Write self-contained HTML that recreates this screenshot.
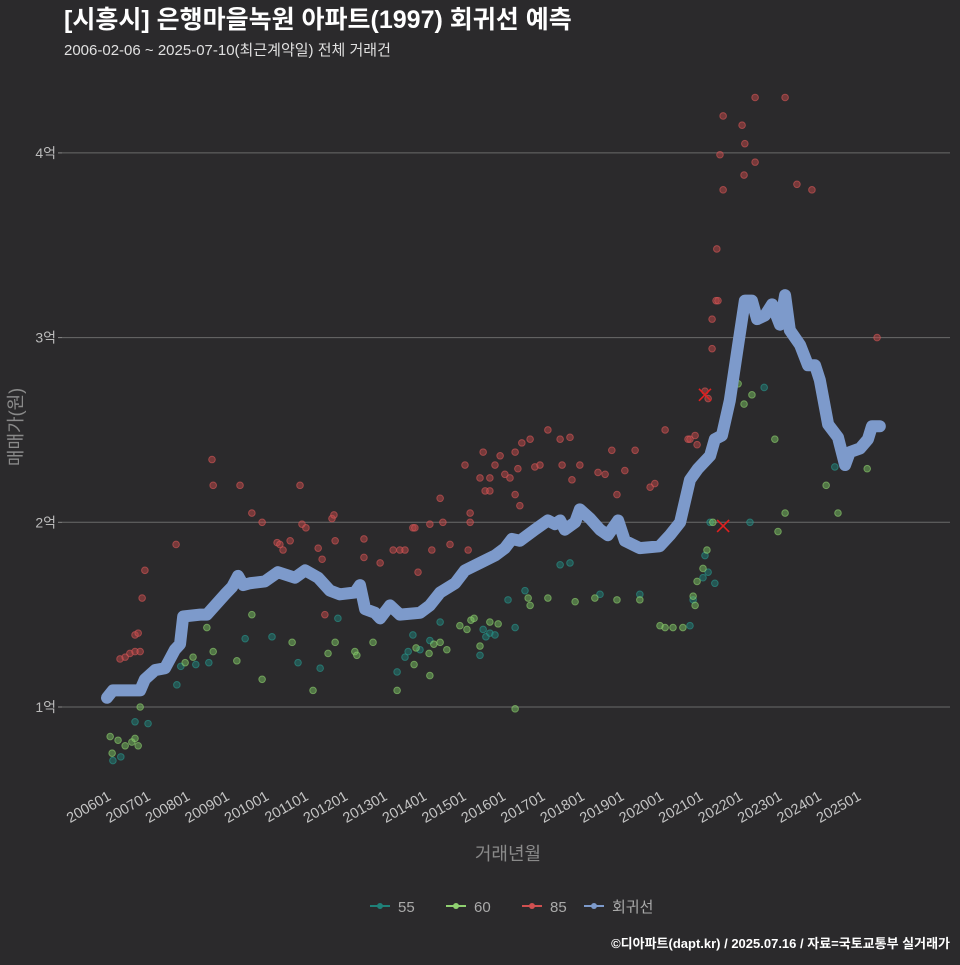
<!DOCTYPE html>
<html><head><meta charset="utf-8">
<style>
html,body{margin:0;padding:0;background:#2b2a2c;}
body{width:960px;height:960px;overflow:hidden;font-family:"Liberation Sans","Noto Sans CJK KR",sans-serif;}
</style></head>
<body>
<svg id="chart" width="960" height="960" xmlns="http://www.w3.org/2000/svg" style="font-family:'Liberation Sans','Noto Sans CJK KR',sans-serif">
<rect width="960" height="960" fill="#2b2a2c"/>
<text x="64" y="28" fill="#ffffff" font-size="25" font-weight="bold">[시흥시] 은행마을녹원 아파트(1997) 회귀선 예측</text>
<text x="64" y="55" fill="#e0e0e0" font-size="15">2006-02-06 ~ 2025-07-10(최근계약일) 전체 거래건</text>
<g id="grid"></g>
<g id="yaxis"></g>
<g id="xaxis"></g>
<g id="points"></g>
<g id="line"></g>
<text x="0" y="0" transform="translate(22,427) rotate(-90)" text-anchor="middle" fill="#8a8a8a" font-size="18">매매가(원)</text>
<text x="508" y="860" text-anchor="middle" fill="#8a8a8a" font-size="18">거래년월</text>
<g id="legend"></g>
<text x="950" y="948" text-anchor="end" fill="#ffffff" font-size="13" font-weight="bold">©디아파트(dapt.kr) / 2025.07.16 / 자료=국토교통부 실거래가</text>
</svg>
<script>
const yTicks=[1,2,3,4];
const yTickLabels=["1억","2억","3억","4억"];
const xTicks=[2006,2007,2008,2009,2010,2011,2012,2013,2014,2015,2016,2017,2018,2019,2020,2021,2022,2023,2024,2025];
const xTickLabels=["200601","200701","200801","200901","201001","201101","201201","201301","201401","201501","201601","201701","201801","201901","202001","202101","202201","202301","202401","202501"];
const s85=[[2006.15,1.09],[2006.33,1.26],[2006.46,1.27],[2006.58,1.29],[2006.71,1.30],[2006.84,1.30],[2006.71,1.39],[2006.79,1.40],[2006.89,1.59],[2006.96,1.74],[2007.75,1.88],[2008.66,2.34],[2008.69,2.20],[2009.37,2.20],[2009.67,2.05],[2009.93,2.00],[2010.31,1.89],[2010.38,1.88],[2010.46,1.85],[2010.64,1.90],[2010.89,2.20],[2010.94,1.99],[2011.04,1.97],[2011.35,1.86],[2011.45,1.80],[2011.52,1.50],[2011.70,2.02],[2011.75,2.04],[2011.78,1.90],[2012.51,1.91],[2012.51,1.81],[2012.92,1.78],[2013.25,1.85],[2013.42,1.85],[2013.55,1.85],[2013.75,1.97],[2013.80,1.97],[2013.88,1.73],[2014.18,1.99],[2014.23,1.85],[2014.44,2.13],[2014.51,2.00],[2014.69,1.88],[2015.07,2.31],[2015.15,1.85],[2015.20,2.05],[2015.20,2.00],[2015.45,2.24],[2015.53,2.38],[2015.58,2.17],[2015.70,2.24],[2015.70,2.17],[2015.83,2.31],[2015.96,2.36],[2016.08,2.26],[2016.21,2.24],[2016.34,2.15],[2016.34,2.38],[2016.41,2.29],[2016.46,2.09],[2016.51,2.43],[2016.72,2.45],[2016.84,2.30],[2016.97,2.31],[2017.17,2.50],[2017.48,2.45],[2017.53,2.31],[2017.73,2.46],[2017.78,2.23],[2017.98,2.31],[2018.44,2.27],[2018.62,2.26],[2018.79,2.39],[2018.92,2.15],[2019.12,2.28],[2019.38,2.39],[2019.76,2.19],[2019.88,2.21],[2020.14,2.50],[2020.72,2.45],[2020.77,2.45],[2020.90,2.47],[2020.95,2.42],[2021.15,2.71],[2021.23,2.67],[2021.33,2.94],[2021.33,3.10],[2021.43,3.20],[2021.48,3.20],[2021.45,3.48],[2021.53,3.99],[2021.61,4.20],[2021.61,3.80],[2022.09,4.15],[2022.16,4.05],[2022.14,3.88],[2022.42,4.30],[2022.42,3.95],[2023.18,4.30],[2023.48,3.83],[2023.86,3.80],[2025.51,3.00]];
const s60=[[2006.08,0.84],[2006.13,0.75],[2006.28,0.82],[2006.46,0.79],[2006.63,0.81],[2006.71,0.83],[2006.79,0.79],[2006.84,1.00],[2007.98,1.24],[2008.18,1.27],[2008.53,1.43],[2008.69,1.30],[2009.29,1.25],[2009.67,1.50],[2009.93,1.15],[2010.69,1.35],[2011.22,1.09],[2011.60,1.29],[2011.78,1.35],[2012.28,1.30],[2012.33,1.28],[2012.74,1.35],[2013.35,1.09],[2013.78,1.23],[2013.83,1.32],[2014.16,1.29],[2014.18,1.17],[2014.28,1.34],[2014.44,1.35],[2014.61,1.31],[2014.94,1.44],[2015.12,1.42],[2015.22,1.47],[2015.30,1.48],[2015.45,1.33],[2015.70,1.46],[2015.91,1.45],[2016.34,0.99],[2016.67,1.59],[2016.72,1.55],[2017.17,1.59],[2017.86,1.57],[2018.36,1.59],[2018.92,1.58],[2019.50,1.58],[2020.01,1.44],[2020.14,1.43],[2020.34,1.43],[2020.59,1.43],[2020.85,1.60],[2020.90,1.55],[2020.95,1.68],[2021.10,1.75],[2021.20,1.85],[2021.35,2.00],[2021.78,2.69],[2021.99,2.75],[2022.14,2.64],[2022.34,2.69],[2022.92,2.45],[2023.00,1.95],[2023.18,2.05],[2024.22,2.20],[2024.52,2.05],[2025.26,2.29]];
const s55=[[2006.15,0.71],[2006.35,0.73],[2006.71,0.92],[2007.04,0.91],[2007.77,1.12],[2007.87,1.22],[2008.25,1.23],[2008.58,1.24],[2009.50,1.37],[2010.18,1.38],[2010.84,1.24],[2011.40,1.21],[2011.85,1.48],[2013.35,1.19],[2013.55,1.27],[2013.63,1.30],[2013.75,1.39],[2013.93,1.31],[2014.18,1.36],[2014.44,1.46],[2015.45,1.28],[2015.53,1.42],[2015.60,1.38],[2015.70,1.40],[2015.83,1.39],[2016.16,1.58],[2016.34,1.43],[2016.59,1.63],[2017.48,1.77],[2017.73,1.78],[2018.49,1.61],[2019.50,1.61],[2020.77,1.44],[2020.85,1.58],[2021.10,1.70],[2021.15,1.82],[2021.23,1.73],[2021.28,2.00],[2021.40,1.67],[2022.29,2.00],[2022.65,2.73],[2024.44,2.30]];
const cancelled=[[2021.15,2.69],[2021.61,1.98]];
const reg=[[2006.0,1.05],[2006.15,1.09],[2006.84,1.09],[2006.96,1.15],[2007.22,1.20],[2007.47,1.21],[2007.72,1.31],[2007.85,1.34],[2007.93,1.49],[2008.36,1.50],[2008.53,1.50],[2008.74,1.55],[2008.99,1.61],[2009.17,1.65],[2009.32,1.71],[2009.45,1.66],[2009.62,1.67],[2010.0,1.68],[2010.33,1.73],[2010.76,1.70],[2011.02,1.74],[2011.35,1.70],[2011.65,1.63],[2011.9,1.61],[2012.28,1.62],[2012.41,1.66],[2012.54,1.53],[2012.79,1.51],[2012.92,1.48],[2013.17,1.55],[2013.42,1.50],[2013.93,1.51],[2014.18,1.55],[2014.44,1.62],[2014.82,1.67],[2015.07,1.74],[2015.45,1.78],[2015.83,1.82],[2016.08,1.86],[2016.26,1.91],[2016.46,1.90],[2016.84,1.96],[2017.17,2.01],[2017.35,1.99],[2017.48,2.01],[2017.6,1.96],[2017.86,2.00],[2017.98,2.07],[2018.24,2.02],[2018.49,1.96],[2018.69,1.93],[2018.95,2.01],[2019.12,1.90],[2019.5,1.86],[2020.0,1.87],[2020.26,1.93],[2020.52,2.00],[2020.77,2.23],[2020.97,2.29],[2021.28,2.36],[2021.4,2.45],[2021.58,2.47],[2021.78,2.66],[2021.99,2.96],[2022.16,3.20],[2022.34,3.20],[2022.47,3.10],[2022.67,3.12],[2022.85,3.18],[2023.05,3.07],[2023.18,3.23],[2023.3,3.04],[2023.56,2.96],[2023.76,2.85],[2023.94,2.85],[2024.06,2.77],[2024.27,2.53],[2024.52,2.46],[2024.7,2.31],[2024.82,2.38],[2025.08,2.40],[2025.28,2.45],[2025.38,2.52],[2025.58,2.52]];

const NS="http://www.w3.org/2000/svg";
function xs(t){return 107+(t-2006)*39.47;}
function ys(v){return 707-(v-1)*184.7;}
function mk(tag,attrs,parent){const e=document.createElementNS(NS,tag);for(const k in attrs)e.setAttribute(k,attrs[k]);parent.appendChild(e);return e;}
const grid=document.getElementById('grid'),yax=document.getElementById('yaxis'),xax=document.getElementById('xaxis');
yTicks.forEach((v,i)=>{
  const g=mk('line',{x1:62,x2:950,y1:ys(v),y2:ys(v),stroke:'#6a6a6a','stroke-width':1},grid);
  
  
  const tk=mk('line',{x1:58,x2:62,y1:ys(v),y2:ys(v),stroke:'#888','stroke-width':1},yax);
  
  
  const t=mk('text',{x:56,y:ys(v)+5,'text-anchor':'end',fill:'#bbbbbb','font-size':14},yax);
  t.textContent=yTickLabels[i];
  
  
});
xTicks.forEach((v,i)=>{
  const x=xs(v);
  const t=mk('text',{x:0,y:0,transform:`translate(${x+5},${799}) rotate(-30)`,'text-anchor':'end',fill:'#c4c4c4','font-size':14.5},xax);
  t.textContent=xTickLabels[i];
  
  
});
const pts=document.getElementById('points');
function drawSeries(arr,fill,stroke,name){
  arr.forEach(d=>{
    const c=mk('circle',{cx:xs(d[0]),cy:ys(d[1]),r:3.3,fill:fill,'fill-opacity':0.5,stroke:stroke,'stroke-opacity':0.6,'stroke-width':1},pts);
    
    
  });
}
drawSeries(s55,'#1f8078','#2a9a90','point-55');
drawSeries(s60,'#78c060','#8fd070','point-60');
drawSeries(s85,'#c04848','#d85858','point-85');
cancelled.forEach(d=>{
  const x=xs(d[0]),y=ys(d[1]);
  const p=mk('path',{d:`M${x-6},${y-6}L${x+6},${y+6}M${x+6},${y-6}L${x-6},${y+6}`,stroke:'#e02020','stroke-width':1.6},pts);
  
  
});
const lg=document.getElementById('line');
const pl=mk('polyline',{points:reg.map(d=>xs(d[0])+','+ys(d[1])).join(' '),fill:'none',stroke:'#7d9acb','stroke-width':12,'stroke-linejoin':'round','stroke-linecap':'round'},lg);


const legItems=[['55','#1f8078',370],['60','#8fd070',446],['85','#d05050',522],['회귀선','#7d9acb',584]];
const leg=document.getElementById('legend');
legItems.forEach(it=>{
  const g=mk('g',{},leg);
  
  
  mk('line',{x1:it[2],x2:it[2]+20,y1:906,y2:906,stroke:it[1],'stroke-width':2},g);
  mk('circle',{cx:it[2]+10,cy:906,r:3,fill:it[1]},g);
  const t=mk('text',{x:it[2]+28,y:912,fill:'#aaaaaa','font-size':15},g);
  t.textContent=it[0];
});
</script>
</body></html>
